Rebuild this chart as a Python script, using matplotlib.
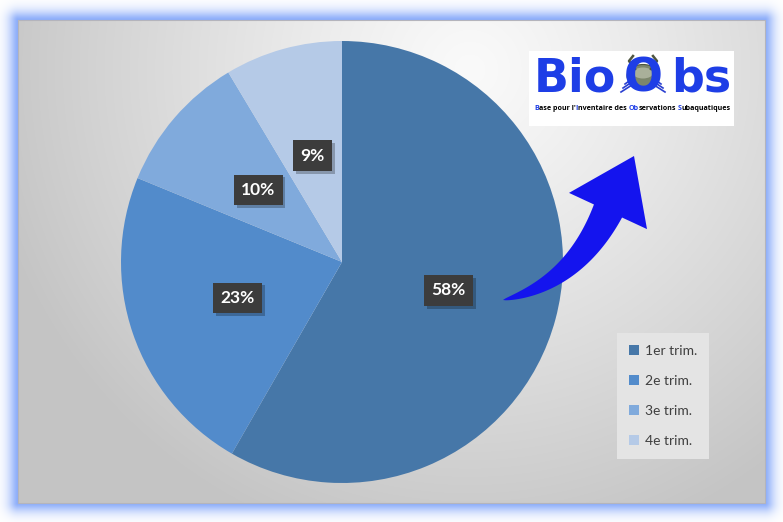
import numpy as np
import matplotlib
matplotlib.use("Agg")
import matplotlib.pyplot as plt
import matplotlib.patheffects as pe
from matplotlib.patches import Rectangle, Ellipse, Polygon
from matplotlib.font_manager import FontProperties

# ---- data ----
categories = ["1er trim.", "2e trim.", "3e trim.", "4e trim."]
values = [58.3, 22.9, 10.2, 8.6]
colors = ["#4677A8", "#528BCB", "#80AADC", "#B5CAE7"]

W, H = 783, 522
fig = plt.figure(figsize=(W / 100, H / 100), dpi=100)
fig.patch.set_facecolor("white")

# ---- background: blue glow frame + radial gray gradient ----
bg = fig.add_axes([0, 0, 1, 1])
bg.set_axis_off()
yy, xx = np.mgrid[0:H, 0:W] + 0.5
x0, y0, x1, y1 = 18, 20, 765, 503
img = np.ones((H, W, 3))
dx = np.maximum(np.maximum(x0 - xx, xx - x1), 0)
dy = np.maximum(np.maximum(y0 - yy, yy - y1), 0)
dist = np.sqrt(dx ** 2 + dy ** 2)
glow = np.exp(-(dist / 9.5) ** 1.6)
blue = np.array([0.55, 0.68, 0.98])
img = img * (1 - glow[..., None]) + blue * glow[..., None]
inside = (xx >= x0) & (xx <= x1) & (yy >= y0) & (yy <= y1)
d = np.sqrt((xx - 470) ** 2 + (yy - 70) ** 2)
v = 250 - 52 * (d / 480.0) ** 1.15
v = np.clip(v, 196, 250) / 255.0
for c in range(3):
    img[..., c] = np.where(inside, v, img[..., c])
bg.imshow(img, extent=[0, W, H, 0], aspect="auto", interpolation="bilinear")
bg.set_xlim(0, W)
bg.set_ylim(H, 0)
bg.add_patch(Rectangle((x0, y0), x1 - x0, y1 - y0, fill=False, ec="#B4B4BC", lw=0.8))

# ---- pie ----
cx, cy, r = 342, 262, 221
ax = fig.add_axes([(cx - r) / W, (H - cy - r) / H, 2 * r / W, 2 * r / H])
wedges, _, autotexts = ax.pie(
    values, colors=colors, startangle=90, counterclock=False,
    autopct="%1.0f%%", pctdistance=0.5,
    wedgeprops=dict(linewidth=0),
    textprops=dict(color="white", fontsize=12.5, fontweight="bold", family="Lato"),
)
for t in autotexts:
    t.set_bbox(dict(boxstyle="square,pad=0.42", fc="#3C3C3C", ec="none"))
    t.get_bbox_patch().set_path_effects(
        [pe.SimplePatchShadow(offset=(2, -2), shadow_rgbFace="black", alpha=0.25), pe.Normal()])
ax.set_xlim(-1, 1)
ax.set_ylim(-1, 1)
ax.set_aspect("auto")

leg = fig.legend(
    wedges, categories, loc="upper left",
    bbox_to_anchor=(617 / W, 1 - 333 / H),
    frameon=True, fancybox=False, framealpha=1,
    facecolor="#E4E4E4", edgecolor="none",
    prop=dict(family="Lato", size=10), labelcolor="#404040",
    handlelength=0.75, handleheight=0.75, handletextpad=0.4,
    labelspacing=1.3, borderpad=0.85, borderaxespad=0,
)

# ---- overlay (arrow + logo) ----
ov = fig.add_axes([0, 0, 1, 1])
ov.set_axis_off()
ov.set_xlim(0, W)
ov.set_ylim(H, 0)

# swoosh arrow: quadratic bezier centre line, tapering width, triangular head
P0 = np.array([503.0, 300.0])
P2 = np.array([608.0, 211.0])
P1 = P2 - 1.3 * np.array([26.0, -56.0])
t = np.linspace(0, 1, 60)[:, None]
C = (1 - t) ** 2 * P0 + 2 * (1 - t) * t * P1 + t ** 2 * P2
dC = 2 * (1 - t) * (P1 - P0) + 2 * t * (P2 - P1)
nrm = np.column_stack([-dC[:, 1], dC[:, 0]])
nrm /= np.linalg.norm(nrm, axis=1)[:, None]
wdt = 31 * (t[:, 0] ** 0.7)
left = C + nrm * wdt[:, None] / 2
right = C - nrm * wdt[:, None] / 2
tip = np.array([634.0, 156.0])
hd = np.array([26.0, -56.0]) / np.hypot(26, 56)
hn = np.array([-hd[1], hd[0]])
b1, b2 = P2 + hn * 43, P2 - hn * 43
if np.dot(b1 - P2, nrm[-1]) < 0:
    b1, b2 = b2, b1
pts = np.vstack([left, [b1], [tip], [b2], right[::-1]])
ov.add_patch(Polygon(pts, closed=True, fc="#1414EE", ec="none"))

# logo
ov.add_patch(Rectangle((529, 51), 205, 75, fc="white", ec="none"))
logo_blue = "#1E3EE6"
big = dict(color=logo_blue, fontsize=33, fontweight="bold", family="DejaVu Sans", va="baseline")
ov.text(534, 91, "Bio", ha="left", **big)
ov.text(731, 91, "bs", ha="right", **big)
ov.text(643, 91, "O", ha="center", **big)
# crab
for sx in (-1, 1):
    for k in range(3):
        ov.plot([643 + sx * 11, 643 + sx * (18 + 2 * k)],
                [79 + 3 * k, 84 + 4 * k], color="#2A3FD0", lw=1.2)
    ov.plot([643 + sx * 8, 643 + sx * 14, 643 + sx * 10], [69, 61, 56], color="#4E5540", lw=1.8)
ov.add_patch(Ellipse((643, 76), 32, 23, fc="#7C866C", ec="#4E5540", lw=0.8))
ov.add_patch(Ellipse((643, 73), 20, 11, fc="#A9B09A", ec="none"))

# subtitle with coloured initials
pieces = [("", "B", logo_blue), ("", "ase pour l'", "black"), ("", "I", logo_blue),
          ("", "nventaire des", "black"), (" ", "Ob", logo_blue), ("", "servations", "black"),
          (" ", "S", logo_blue), ("", "ubaquatiques", "black")]
fig.canvas.draw()
renderer = fig.canvas.get_renderer()
fp = FontProperties(family="Open Sans", weight="bold", size=5.1)
sx0, sy0 = 534, 110
prefix = ""
for sep, s, col in pieces:
    prefix += sep + s
    w, h, dsc = renderer.get_text_width_height_descent(prefix, fp, ismath=False)
    ov.text(sx0 + w, sy0, s, color=col, fontproperties=fp, va="baseline", ha="right")

fig.savefig("out.png", dpi=100)
